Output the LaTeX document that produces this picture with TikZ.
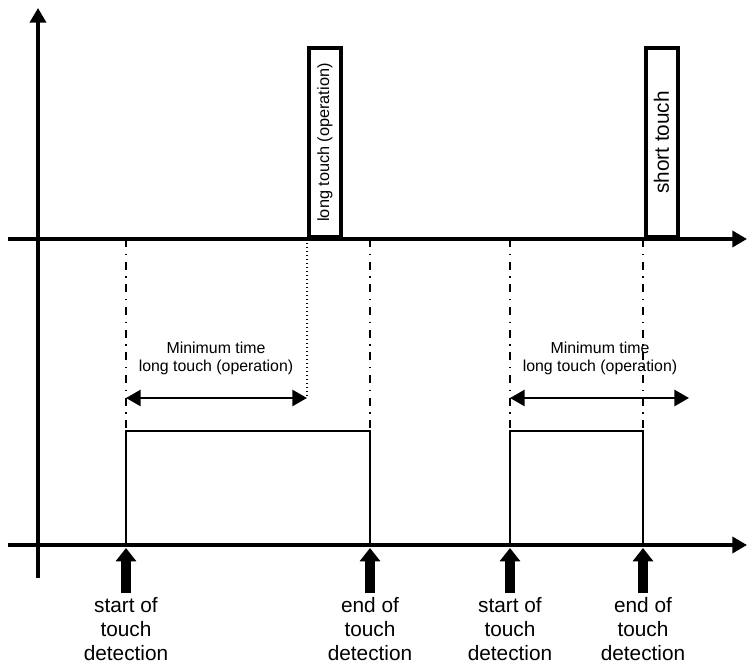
\documentclass[tikz,border=0pt]{standalone}
\usepackage{fontspec}
\setmainfont{Liberation Sans}
\usetikzlibrary{arrows.meta,positioning}

\tikzset{
    axis/.style={line width=3pt, -{Triangle[length=11pt,width=12pt]}},
    pulse/.style={draw, line width=3pt, rotate=90, anchor=west, inner sep=0pt,
                  minimum height=24pt},
    dashdot/.style={line width=1.3pt, dash pattern=on 6pt off 5pt on 1pt off 5pt},
    span/.style={line width=2pt, {Triangle[length=11pt,width=12pt]}-{Triangle[length=11pt,width=12pt]}},
    bigarrow/.style={line width=7.5pt, -{Triangle[length=10pt,width=15pt]}},
    detlabel/.style={anchor=north, align=center, inner sep=0pt, font=\fontsize{15.6}{18}\selectfont},
    mintime/.style={align=center, inner sep=0pt, font=\fontsize{11.9}{13.5}\selectfont}
}

\begin{document}
\begin{tikzpicture}[x=0.75pt, y=-0.75pt]
    \useasboundingbox (0,0) rectangle (747,666);

    % Axes
    \draw[axis] (38,578) -- (38,8);
    \draw[axis] (8,239) -- (747,239);
    \draw[axis] (8,545) -- (747,545);

    % Touch pulses
    \node[pulse, minimum width=141.75pt, font=\fontsize{12.2}{14}\selectfont]
        (longpulse) at (325,239) {long touch (operation)};
    \node[pulse, minimum width=141.75pt, font=\fontsize{15.6}{18}\selectfont]
        (shortpulse) at (661.5,239) {short touch};

    % Time markers
    \foreach \x in {126,370,510,643}
    {
        \draw[dashdot] (\x,239) -- (\x,431);
    }
    \draw[dotted, line width=1pt] (307,239) -- (307,398);

    % Detection windows
    \draw[line width=1.2pt] (126,545) |- (370,431) -- (370,545);
    \draw[line width=1.2pt] (510,545) |- (643,431) -- (643,545);

    % Minimum time
    \draw[span] (126,398) -- (307,398);
    \draw[span] (510,398) -- (689,398);
    \node[mintime] (minA) at (216,358) {Minimum time\\long touch (operation)};
    \node[mintime] (minB) at (600,358) {Minimum time\\long touch (operation)};

    % Detection events
    \foreach \x/\txt [count=\i] in {126/start,370/end,510/start,643/end}
    {
        \draw[bigarrow] (\x,593) -- (\x,548);
        \node[detlabel] (det\i) at (\x,597) {\txt\ of\\touch\\detection};
    }
\end{tikzpicture}
\end{document}
